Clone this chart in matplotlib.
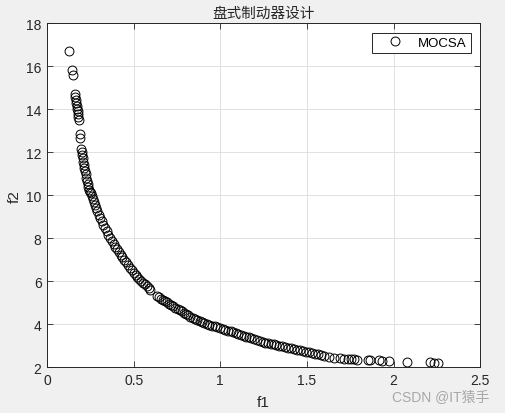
import matplotlib
matplotlib.use("Agg")
import matplotlib.pyplot as plt

# ---- data ----
f1_top = [0.129, 0.143, 0.147]
f2_top = [16.72, 15.82, 15.62]

f1_col = [0.161, 0.164, 0.167, 0.169, 0.171, 0.173, 0.176, 0.178, 0.181, 0.184,
          0.190, 0.189, 0.196, 0.199]
f2_col = [14.72, 14.56, 14.42, 14.28, 14.15, 14.02, 13.90, 13.78, 13.65, 13.52,
          12.86, 12.68, 12.15, 12.02]

f1_c = [0.203, 0.206, 0.209, 0.212, 0.215, 0.218, 0.222, 0.226, 0.230, 0.234,
        0.238, 0.243, 0.248, 0.253, 0.258, 0.264, 0.270, 0.277, 0.284, 0.291,
        0.299, 0.307, 0.316, 0.325, 0.334, 0.344, 0.354, 0.364]
f2_c = [11.88, 11.72, 11.56, 11.42, 11.28, 11.14, 10.98, 10.82, 10.68, 10.54,
        10.40, 10.26, 10.13, 10.10, 9.98, 9.84, 9.70, 9.55, 9.40, 9.26,
        9.10, 8.94, 8.78, 8.62, 8.47, 8.32, 8.16, 8.00]

f1_d = [0.374, 0.384, 0.394, 0.404, 0.414, 0.424, 0.435, 0.446, 0.457, 0.468,
        0.479, 0.490, 0.500, 0.511, 0.522, 0.533, 0.544, 0.555, 0.565, 0.575,
        0.586, 0.597]
f2_d = [7.87, 7.74, 7.61, 7.48, 7.36, 7.24, 7.11, 6.99, 6.87, 6.75,
        6.63, 6.51, 6.40, 6.30, 6.20, 6.11, 6.02, 5.93, 5.85, 5.77,
        5.69, 5.61]

f1_e = [0.633, 0.645, 0.657, 0.669, 0.681, 0.693, 0.705, 0.717, 0.729, 0.741,
        0.753, 0.765, 0.777, 0.789, 0.801, 0.814, 0.827, 0.840, 0.853, 0.866,
        0.880, 0.894, 0.908, 0.922, 0.937, 0.952, 0.967, 0.983, 0.999]
f2_e = [5.32, 5.25, 5.19, 5.13, 5.07, 5.01, 4.95, 4.89, 4.83, 4.77,
        4.71, 4.65, 4.59, 4.53, 4.47, 4.41, 4.35, 4.29, 4.24, 4.19,
        4.14, 4.09, 4.05, 4.01, 3.97, 3.93, 3.89, 3.86, 3.82]

f1_f = [1.014, 1.029, 1.044, 1.059, 1.074, 1.089, 1.104, 1.119, 1.134, 1.149,
        1.164, 1.180, 1.196, 1.212, 1.228, 1.244, 1.260, 1.276, 1.292, 1.308,
        1.324, 1.340, 1.357, 1.374, 1.391, 1.408, 1.425, 1.442, 1.459, 1.476,
        1.493, 1.510, 1.527, 1.545, 1.563]
f2_f = [3.78, 3.74, 3.70, 3.66, 3.62, 3.58, 3.54, 3.50, 3.46, 3.42,
        3.38, 3.34, 3.30, 3.26, 3.22, 3.18, 3.14, 3.11, 3.08, 3.05,
        3.02, 2.99, 2.96, 2.93, 2.90, 2.87, 2.84, 2.81, 2.78, 2.75,
        2.72, 2.69, 2.66, 2.63, 2.60]

f1_g = [1.582, 1.600, 1.625, 1.655, 1.690, 1.715, 1.735, 1.752, 1.772, 1.790,
        1.850, 1.862, 1.918, 1.932, 1.972, 2.078, 2.212, 2.236, 2.258]
f2_g = [2.56, 2.52, 2.47, 2.43, 2.40, 2.38, 2.37, 2.36, 2.36, 2.35,
        2.33, 2.33, 2.31, 2.30, 2.28, 2.23, 2.22, 2.21, 2.21]

f1 = f1_top + f1_col + f1_c + f1_d + f1_e + f1_f + f1_g
f2 = f2_top + f2_col + f2_c + f2_d + f2_e + f2_f + f2_g

xticks = [0, 0.5, 1, 1.5, 2, 2.5]
xticklabels = ["0", "0.5", "1", "1.5", "2", "2.5"]
yticks = [2, 4, 6, 8, 10, 12, 14, 16, 18]

title_text = "盘式制动器设计"
series_name = "MOCSA"

# ---- figure ----
plt.rcParams['font.family'] = ['Liberation Sans', 'Noto Sans CJK SC', 'DejaVu Sans']
fig = plt.figure(figsize=(5.06, 4.14), dpi=100, facecolor='#f0f0f0')
ax = fig.add_axes([0.093, 0.111, 0.856, 0.830])
ax.set_facecolor('white')

ax.plot(f1, f2, linestyle='none', marker='o', markersize=6.4,
        markerfacecolor='none', markeredgecolor='black', markeredgewidth=0.7,
        label=series_name)

ax.set_xlim(0, 2.5)
ax.set_ylim(2, 18)
ax.set_xticks(xticks)
ax.set_xticklabels(xticklabels)
ax.set_yticks(yticks)

ax.grid(True, color='#dcdcdc', linewidth=0.6)
ax.set_axisbelow(True)
for s in ax.spines.values():
    s.set_color('#262626')
    s.set_linewidth(0.7)
ax.tick_params(direction='in', top=True, right=True, length=4, width=0.6,
               colors='#262626', labelsize=10, pad=4)

ax.set_title(title_text, fontsize=10.5, color='#262626',
             family=['Noto Sans CJK SC', 'DejaVu Sans'], pad=5)
ax.set_xlabel('f1', fontsize=11, color='#262626', labelpad=6)
ax.set_ylabel('f2', fontsize=11, color='#262626')
ax.yaxis.set_label_coords(-0.058, 0.5)

leg = ax.legend(loc='upper right', fontsize=9.5, frameon=True, fancybox=False,
                edgecolor='#262626', framealpha=1, borderpad=0.3,
                handletextpad=0.3, borderaxespad=0.7, handlelength=2.9)
leg.get_frame().set_linewidth(0.7)

fig.text(0.968, 0.038, 'CSDN @IT猿手', ha='right', va='center', fontsize=10,
         color='#a8a8a8', family=['Liberation Sans', 'Noto Sans CJK SC', 'DejaVu Sans'])

fig.savefig('out.png', dpi=100, facecolor=fig.get_facecolor())
